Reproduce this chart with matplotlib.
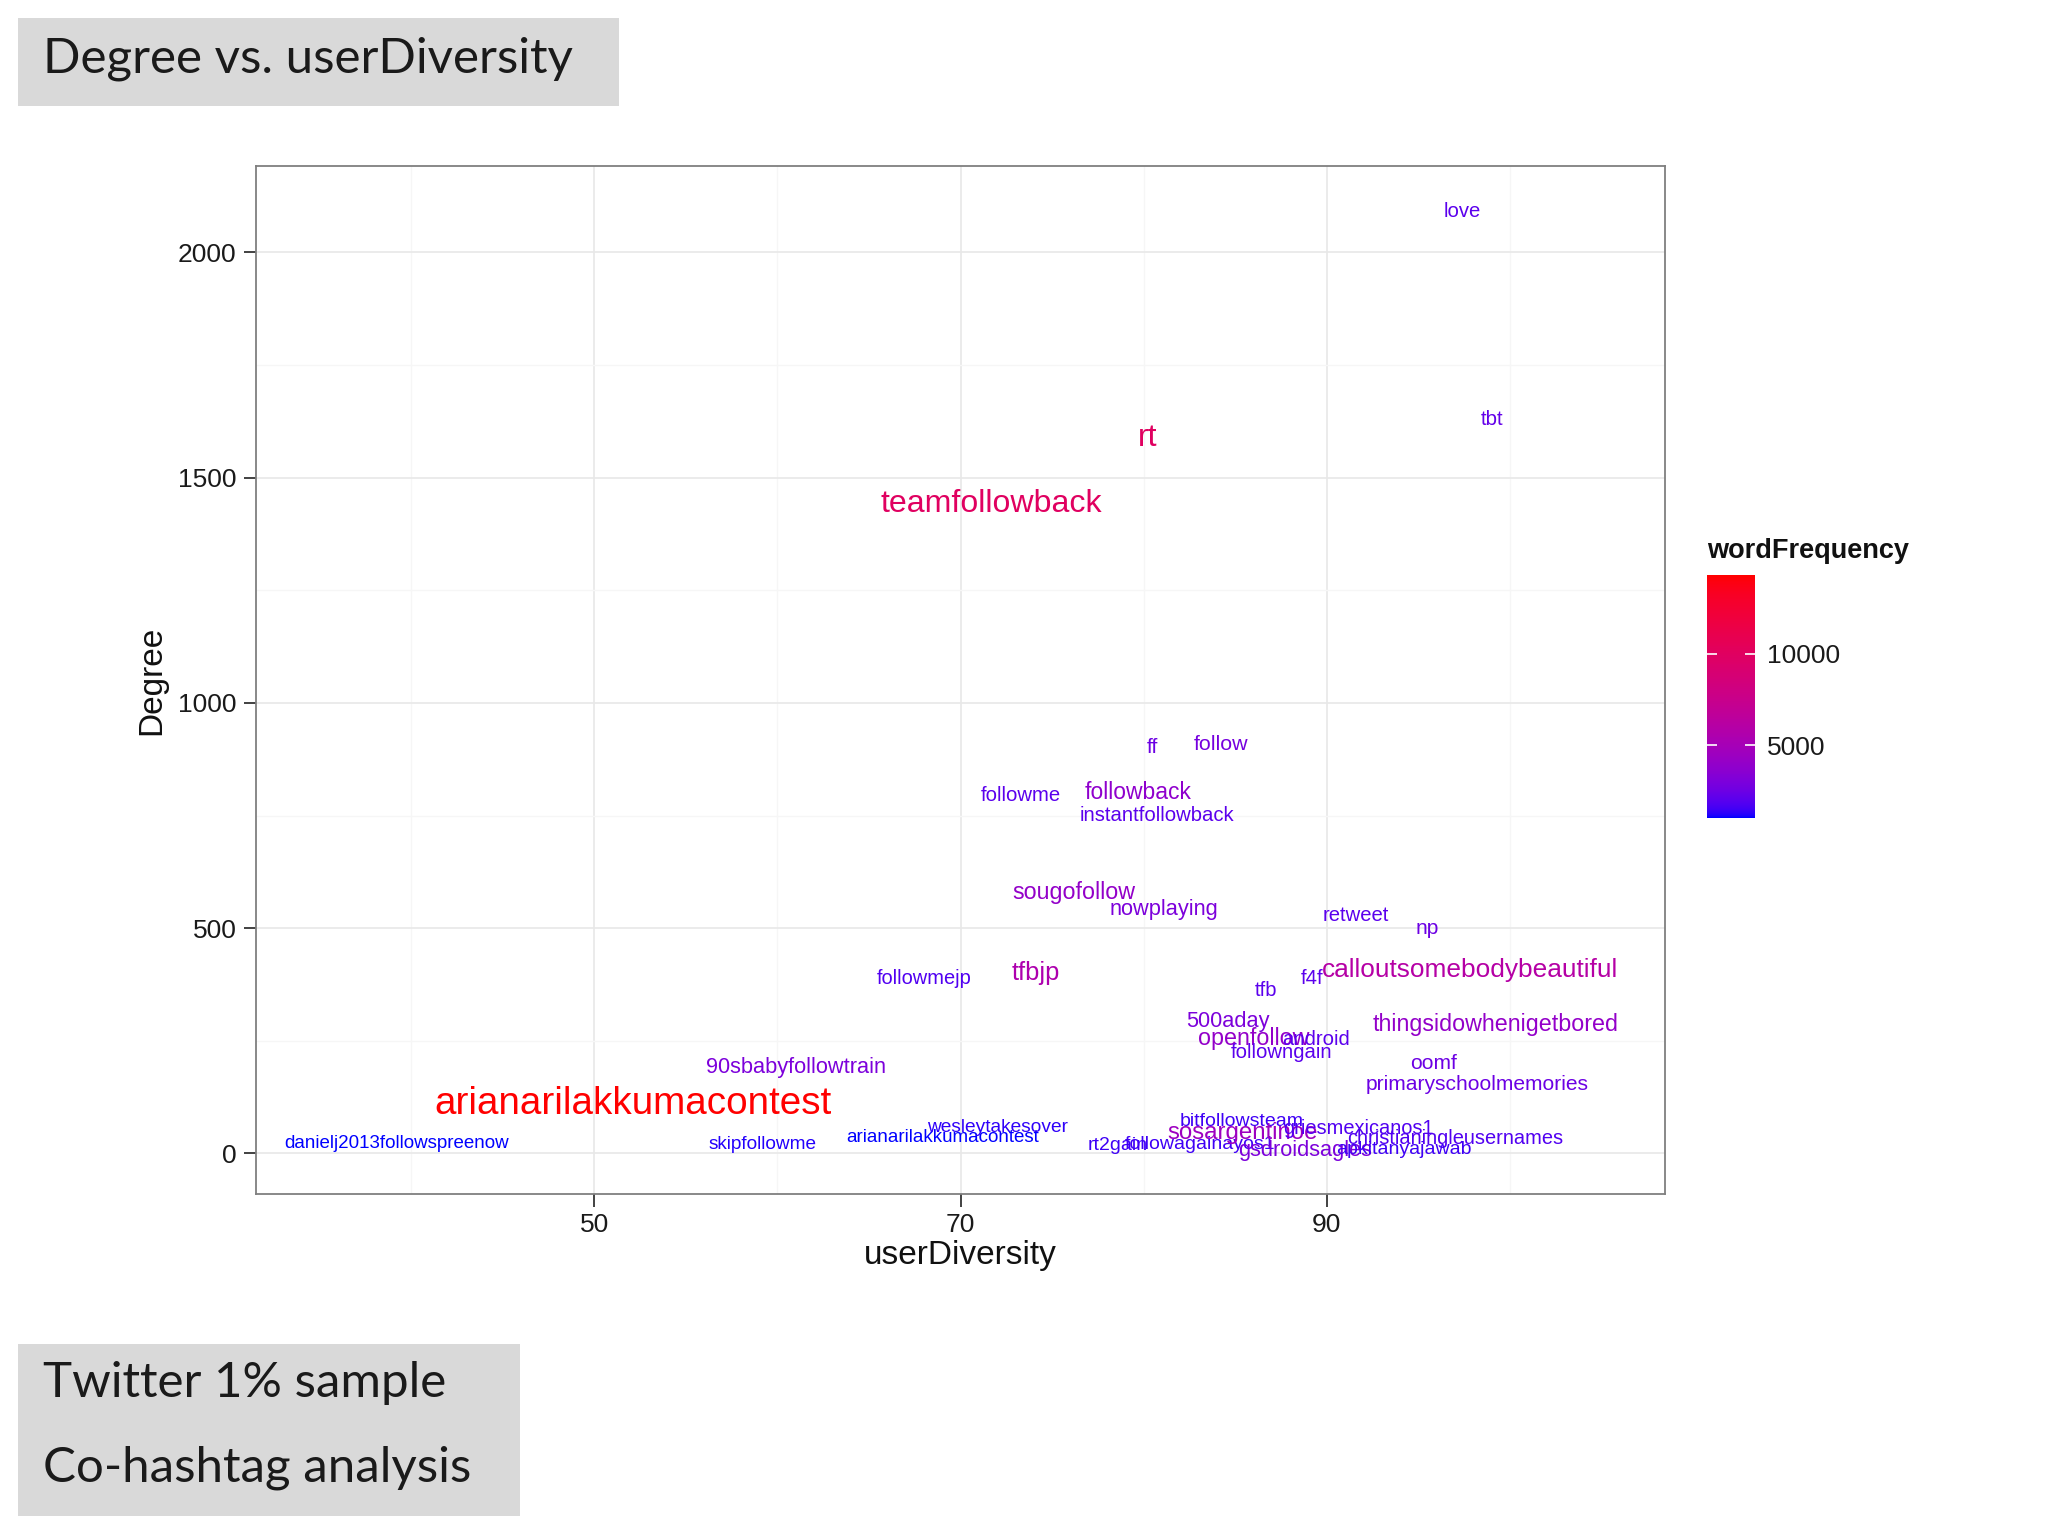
import numpy as np
import matplotlib
matplotlib.use("Agg")
import matplotlib.pyplot as plt
from matplotlib.colors import ListedColormap, Normalize
from matplotlib.cm import ScalarMappable
from matplotlib.patches import Rectangle

# ---------------- data ----------------
hashtags = [
    "love", "tbt", "rt", "teamfollowback", "ff", "follow", "followme", "followback",
    "instantfollowback", "sougofollow", "nowplaying", "retweet", "np", "followmejp",
    "tfbjp", "tfb", "f4f", "calloutsomebodybeautiful", "500aday", "openfollow",
    "android", "followngain", "thingsidowhenigetbored", "oomf", "primaryschoolmemories",
    "90sbabyfollowtrain", "arianarilakkumacontest", "danielj2013followspreenow",
    "skipfollowme", "arianarilakkumacontest", "wesleytakesover", "rt2gain",
    "followagainayos1", "bitfollowsteam", "sosargentinoe", "griesmexicanos1",
    "gsdroidsagles", "christianingleusernames", "apkitanyajawab",
]
user_diversity = [
    97.4, 99.0, 80.2, 71.7, 80.5, 84.2, 73.3, 79.7,
    80.7, 76.2, 81.1, 91.6, 95.5, 68.0,
    74.1, 86.7, 89.2, 97.8, 84.6, 86.0,
    89.4, 87.5, 99.2, 95.8, 98.2,
    61.0, 52.1, 39.2,
    59.2, 69.0, 72.0, 78.6,
    83.1, 85.35, 85.4, 91.7,
    88.8, 97.0, 94.2,
]
degree = [
    2090, 1629, 1588, 1441, 901, 907, 794, 800,
    751, 580, 542, 528, 499, 388,
    400, 362, 388, 406, 293, 255,
    252, 223, 287, 200, 154,
    191, 110, 23,
    20, 35, 58, 18,
    20, 70, 46, 55,
    7, 33, 8,
]
word_frequency = [
    2000, 2200, 10000, 10000, 2500, 2800, 2000, 3800,
    2000, 4000, 3000, 2000, 2500, 1800,
    5500, 2000, 2000, 6000, 3000, 4000,
    2000, 2000, 4000, 2500, 2500,
    3000, 14300, 1000,
    1200, 1000, 1300, 1500,
    1500, 1500, 4500, 1800,
    3000, 1800, 1500,
]
x_ticks = [50, 70, 90]
y_ticks = [0, 500, 1000, 1500, 2000]
cbar_ticks = [5000, 10000]

# ---------------- colour scale (Lab interpolation blue -> red) ----------------
_M = np.array([[0.4124, 0.3576, 0.1805], [0.2126, 0.7152, 0.0722], [0.0193, 0.1192, 0.9505]])
_W = np.array([0.95047, 1.0, 1.08883])

def srgb_to_lab(rgb):
    c = np.asarray(rgb, float) / 255.0
    lin = np.where(c <= 0.04045, c / 12.92, ((c + 0.055) / 1.055) ** 2.4)
    t = (_M @ lin) / _W
    d = 6 / 29
    f = np.where(t > d ** 3, np.cbrt(t), t / (3 * d * d) + 4 / 29)
    return np.array([116 * f[1] - 16, 500 * (f[0] - f[1]), 200 * (f[1] - f[2])])

def lab_to_srgb(lab):
    L, a, b = lab
    fy = (L + 16) / 116
    f = np.array([fy + a / 500, fy, fy - b / 200])
    d = 6 / 29
    t = np.where(f > d, f ** 3, 3 * d * d * (f - 4 / 29))
    lin = np.clip(np.linalg.inv(_M) @ (t * _W), 0, 1)
    c = np.where(lin <= 0.0031308, 12.92 * lin, 1.055 * lin ** (1 / 2.4) - 0.055)
    return np.clip(c, 0, 1)

lab_lo = srgb_to_lab([0, 0, 255])
lab_hi = srgb_to_lab([255, 0, 0])
cols = [lab_to_srgb(lab_lo + (lab_hi - lab_lo) * s) for s in np.linspace(0, 1, 256)]
cmap = ListedColormap(cols)

vmin, vmax = min(word_frequency), max(word_frequency)
norm = Normalize(vmin=vmin, vmax=vmax)

# ---------------- figure ----------------
plt.rcParams["font.family"] = ["Liberation Sans", "DejaVu Sans"]
fig = plt.figure(figsize=(20.48, 15.36), dpi=100)
fig.patch.set_facecolor("white")

ax = fig.add_axes([0.125, 0.2227, 0.688, 0.669])
ax.set_xlim(31.54, 108.46)
ax.set_ylim(-90, 2191)

ax.set_xticks(x_ticks)
ax.set_xticks([40, 60, 80, 100], minor=True)
ax.set_yticks(y_ticks)
ax.set_yticks([250, 750, 1250, 1750], minor=True)
ax.grid(True, which="major", color="#E8E8E8", linewidth=1.2)
ax.grid(True, which="minor", color="#F6F6F6", linewidth=1.0)
ax.set_axisbelow(True)
for s in ax.spines.values():
    s.set_color("#7F7F7F")
    s.set_linewidth(1.3)
ax.tick_params(which="major", length=9, width=1.3, color="#333333", labelsize=19,
               labelcolor="#1a1a1a", pad=5)
ax.tick_params(which="minor", length=0)
ax.set_xlabel("userDiversity", fontsize=24, labelpad=2, color="#111111")
ax.set_ylabel("Degree", fontsize=24, labelpad=8, color="#111111")

fs_min, fs_max = 13.5, 27.8
for name, xv, yv, wf in zip(hashtags, user_diversity, degree, word_frequency):
    fs = fs_min + (fs_max - fs_min) * norm(wf)
    ax.text(xv, yv, name, fontsize=fs, color=cmap(norm(wf)), ha="center", va="center")

# colour bar
cax = fig.add_axes([0.8335, 0.4674, 0.0234, 0.158])
cb = fig.colorbar(ScalarMappable(norm=norm, cmap=cmap), cax=cax, ticks=cbar_ticks)
cb.outline.set_visible(False)
cax.tick_params(direction="in", length=7, width=1.2, color="white", left=True, right=True,
                labelsize=19, labelcolor="#1a1a1a", pad=9)
cax.set_yticklabels([str(t) for t in cbar_ticks])
fig.text(0.8335, 0.641, "wordFrequency", fontsize=19.5, fontweight="bold",
         ha="left", va="center", color="#111111")

# slide boxes
box_col = "#D9D9D9"
fig.patches.append(Rectangle((0.0088, 0.931), 0.2935, 0.0573, transform=fig.transFigure,
                             facecolor=box_col, edgecolor="none", zorder=0))
fig.patches.append(Rectangle((0.0088, 0.013), 0.245, 0.112, transform=fig.transFigure,
                             facecolor=box_col, edgecolor="none", zorder=0))
box_font = ["Lato", "DejaVu Sans"]
fig.text(0.021, 0.9616, "Degree vs. userDiversity", fontsize=35.5, family=box_font,
         ha="left", va="center", color="#1a1a1a")
fig.text(0.021, 0.0996, "Twitter 1% sample", fontsize=35.5, family=box_font,
         ha="left", va="center", color="#1a1a1a")
fig.text(0.021, 0.0443, "Co-hashtag analysis", fontsize=35.5, family=box_font,
         ha="left", va="center", color="#1a1a1a")

fig.savefig("out.png", dpi=100, facecolor="white")
